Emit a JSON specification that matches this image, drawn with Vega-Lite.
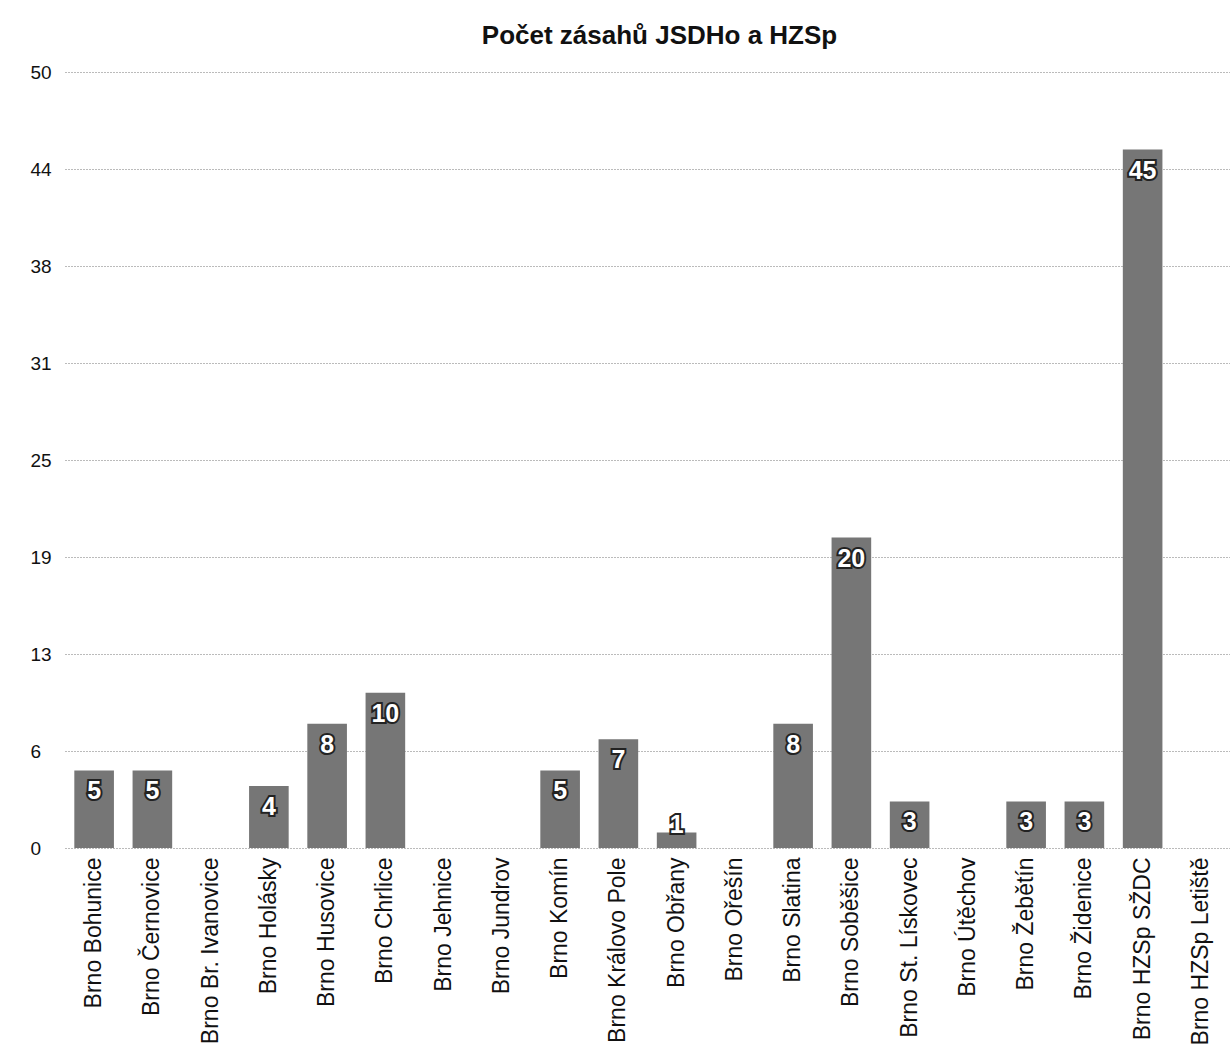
{
  "$schema": "https://vega.github.io/schema/vega-lite/v6.json",
  "autosize": {"type": "none"},
  "width": 1165,
  "height": 776,
  "padding": {"left": 65, "top": 72, "right": 0, "bottom": 208},
  "background": "white",
  "title": {
    "text": "Počet zásahů JSDHo a HZSp",
    "font": "Liberation Sans",
    "fontSize": 26,
    "fontWeight": "bold",
    "color": "#111",
    "anchor": "middle",
    "offset": 14,
    "dx": 12
  },
  "config": {
    "view": {"stroke": null},
    "font": "Liberation Sans"
  },
  "data": {
    "values": [
      {"obec": "Brno Bohunice", "pocet": 5},
      {"obec": "Brno Černovice", "pocet": 5},
      {"obec": "Brno Br. Ivanovice", "pocet": 0},
      {"obec": "Brno Holásky", "pocet": 4},
      {"obec": "Brno Husovice", "pocet": 8},
      {"obec": "Brno Chrlice", "pocet": 10},
      {"obec": "Brno Jehnice", "pocet": 0},
      {"obec": "Brno Jundrov", "pocet": 0},
      {"obec": "Brno Komín", "pocet": 5},
      {"obec": "Brno Královo Pole", "pocet": 7},
      {"obec": "Brno Obřany", "pocet": 1},
      {"obec": "Brno Ořešín", "pocet": 0},
      {"obec": "Brno Slatina", "pocet": 8},
      {"obec": "Brno Soběšice", "pocet": 20},
      {"obec": "Brno St. Lískovec", "pocet": 3},
      {"obec": "Brno Útěchov", "pocet": 0},
      {"obec": "Brno Žebětín", "pocet": 3},
      {"obec": "Brno Židenice", "pocet": 3},
      {"obec": "Brno HZSp SŽDC", "pocet": 45},
      {"obec": "Brno HZSp Letiště", "pocet": 0}
    ]
  },
  "encoding": {
    "x": {
      "field": "obec",
      "type": "nominal",
      "sort": null,
      "scale": {"paddingInner": 0.32, "paddingOuter": 0.16},
      "axis": {
        "title": null,
        "labelAngle": -90,
        "labelFontSize": 23,
        "labelColor": "#111",
        "labelPadding": 9,
        "ticks": false,
        "domain": false,
        "labelLimit": 300
      }
    },
    "y": {
      "field": "pocet",
      "type": "quantitative",
      "scale": {"domain": [0, 50], "nice": false},
      "axis": {
        "title": null,
        "values": [0, 6.25, 12.5, 18.75, 25, 31.25, 37.5, 43.75, 50],
        "format": ".0f",
        "labelAlign": "left",
        "labelPadding": 35,
        "labelFontSize": 19,
        "labelColor": "#111",
        "ticks": false,
        "domain": false,
        "grid": true,
        "gridColor": "#777",
        "gridDash": [1, 2],
        "gridWidth": 1
      }
    }
  },
  "layer": [
    {
      "mark": {"type": "bar", "color": "#767676"}
    },
    {
      "transform": [{"filter": "datum.pocet >= 3"}],
      "mark": {"type": "text", "baseline": "middle", "dy": 21, "fontSize": 25, "fontWeight": "bold", "stroke": "#222", "strokeWidth": 4, "fill": "#222"},
      "encoding": {"text": {"field": "pocet", "type": "quantitative"}}
    },
    {
      "transform": [{"filter": "datum.pocet >= 3"}],
      "mark": {"type": "text", "baseline": "middle", "dy": 21, "fontSize": 25, "fontWeight": "bold", "fill": "white"},
      "encoding": {"text": {"field": "pocet", "type": "quantitative"}}
    },
    {
      "transform": [{"filter": "datum.pocet > 0 && datum.pocet < 3"}],
      "mark": {"type": "text", "baseline": "middle", "dy": -7, "fontSize": 25, "fontWeight": "bold", "stroke": "#222", "strokeWidth": 4, "fill": "#222"},
      "encoding": {"text": {"field": "pocet", "type": "quantitative"}}
    },
    {
      "transform": [{"filter": "datum.pocet > 0 && datum.pocet < 3"}],
      "mark": {"type": "text", "baseline": "middle", "dy": -7, "fontSize": 25, "fontWeight": "bold", "fill": "white"},
      "encoding": {"text": {"field": "pocet", "type": "quantitative"}}
    }
  ]
}
